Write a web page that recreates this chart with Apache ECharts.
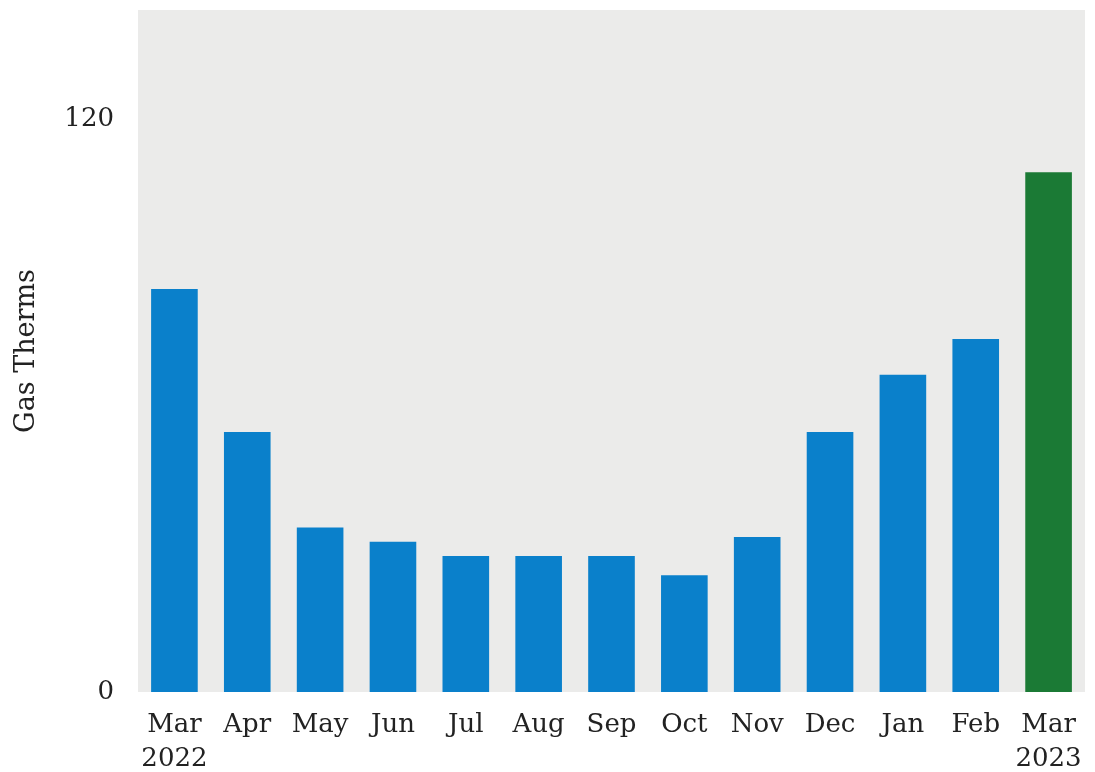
<!DOCTYPE html>
<html>
<head>
    <meta charset="utf-8">
    <script src="https://cdn.jsdelivr.net/npm/echarts@6/dist/echarts.min.js"></script>
    <style>
        html, body { margin: 0; padding: 0; background: #fff; }
    </style>
</head>
<body>
    <div id="main" style="width: 1095px;height:772px;"></div>
    <script type="text/javascript">
        var months = ['Mar\n2022', 'Apr', 'May', 'Jun', 'Jul', 'Aug', 'Sep', 'Oct', 'Nov', 'Dec', 'Jan', 'Feb', 'Mar\n2023'];
        var therms = [84.5, 54.5, 34.5, 31.5, 28.5, 28.5, 28.5, 24.5, 32.5, 54.5, 66.5, 74, 109];
        var yTicks = [0, 120];

        var blue = '#0a80cb';
        var green = '#1b7a35';

        var myChart = echarts.init(document.getElementById('main'));

        var barData = therms.map(function (v, i) {
            // the current month is drawn in green
            return {
                value: v,
                itemStyle: { color: i === therms.length - 1 ? green : blue }
            };
        });

        myChart.setOption({
            animation: false,
            textStyle: { fontFamily: 'DejaVu Serif' },
            grid: {
                left: 138,
                right: 10,
                top: 10,
                bottom: 80,
                outerBoundsMode: 'none',
                show: true,
                backgroundColor: '#ebebea',
                borderWidth: 0
            },
            xAxis: {
                type: 'category',
                data: months,
                axisLine: { show: false },
                axisTick: { show: false },
                axisLabel: {
                    color: '#222',
                    fontSize: 26,
                    fontFamily: 'DejaVu Serif',
                    margin: 16,
                    lineHeight: 34,
                    interval: 0
                }
            },
            yAxis: {
                type: 'value',
                min: 0,
                max: 143,
                interval: 120,
                name: 'Gas Therms',
                nameLocation: 'middle',
                nameGap: 98,
                nameTextStyle: {
                    color: '#222',
                    fontSize: 27,
                    fontFamily: 'DejaVu Serif'
                },
                axisLine: { show: false },
                axisTick: { show: false },
                splitLine: { show: false },
                axisLabel: {
                    color: '#222',
                    fontSize: 26,
                    fontFamily: 'DejaVu Serif',
                    margin: 24,
                    formatter: function (v) {
                        return yTicks.indexOf(v) >= 0 ? String(v) : '';
                    }
                }
            },
            series: [
                {
                    name: 'Gas Therms',
                    type: 'bar',
                    barWidth: '64%',
                    data: barData
                }
            ]
        });
    </script>
</body>
</html>
